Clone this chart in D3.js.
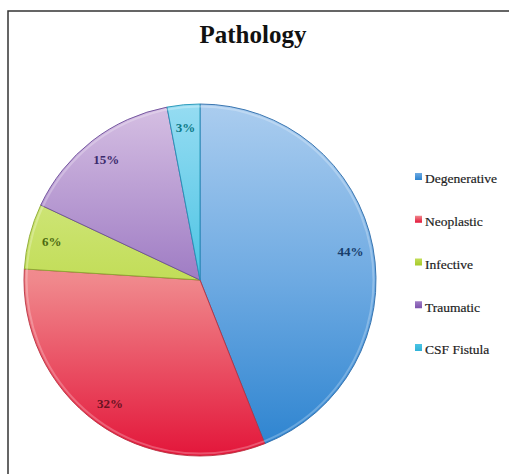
<!DOCTYPE html>
<html lang="en">
<head>
  <meta charset="utf-8">
  <title>Pathology</title>
  <style>
    html,body{margin:0;background:#fff}
    svg{display:block}
    .title{font-family:"Liberation Serif","DejaVu Serif",serif;font-weight:bold;font-size:25px;fill:#111}
    .pct{font-family:"Liberation Serif",serif;font-weight:bold;font-size:13px}
    .legend text{font-family:"Liberation Serif",serif;font-size:13.5px;fill:#222;stroke:#222;stroke-width:0.2}
  </style>
  <script src="https://d3js.org/d3.v7.min.js"></script>
</head>
<body>
<svg width="509" height="474"></svg>
<script>
  // data
  const categories=['Degenerative','Neoplastic','Infective','Traumatic','CSF Fistula'];
  const values=[44,32,6,15,3];

  // styles (light top, saturated bottom, label colour)
  const topColors=['#abcdef','#f9b4b4','#dcee9c','#d6c0e3','#96dcf2'];
  const midColors=['#6eaae2','#f0888c','#c2dd58','#9f7cc4','#4cc4e4'];
  const botColors=['#2a82cf','#e3163a','#a6ca28','#7c52ad','#2fb2d8'];
  const edgeColors=['#2a6aa8','#b8303f','#8aa831','#6b4c98','#1f93b5'];
  const labelColors=['#173d6b','#6a1222','#4d6a12','#3b2a6c','#0d7a88'];

  const svg=d3.select('svg');

  // frame (only top and left visible)
  svg.append('path').attr('d','M8,474 L8,11 L509,11')
     .attr('fill','none').attr('stroke','#333').attr('stroke-width',1.5);

  svg.append('text').attr('class','title')
     .attr('x',253).attr('y',43).attr('text-anchor','middle').text('Pathology');

  const cx=200,cy=280,r=176;
  const defs=svg.append('defs');
  categories.forEach((c,i)=>{
    const g=defs.append('linearGradient').attr('id','g'+i)
      .attr('gradientUnits','userSpaceOnUse')
      .attr('x1',0).attr('y1',-r).attr('x2',0).attr('y2',r);
    g.append('stop').attr('offset',0).attr('stop-color',topColors[i]);
    g.append('stop').attr('offset',0.5).attr('stop-color',midColors[i]);
    g.append('stop').attr('offset',1).attr('stop-color',botColors[i]);
    const lg=defs.append('linearGradient').attr('id','lg'+i)
      .attr('x1',0).attr('y1',0).attr('x2',0).attr('y2',1);
    lg.append('stop').attr('offset',0).attr('stop-color',midColors[i]);
    lg.append('stop').attr('offset',1).attr('stop-color',botColors[i]);
  });

  const pie=d3.pie().sort(null).value(d=>d)(values);
  const arc=d3.arc().innerRadius(0).outerRadius(r);
  const labelArc=d3.arc().innerRadius(r*0.87).outerRadius(r*0.87);

  const pg=svg.append('g').attr('transform',`translate(${cx},${cy})`);
  pg.selectAll('path.slice').data(pie).enter().append('path')
    .attr('class','slice')
    .attr('d',arc)
    .attr('fill',(d,i)=>`url(#g${i})`)
    .attr('stroke',(d,i)=>edgeColors[i])
    .attr('stroke-width',0.9)
    .attr('stroke-linejoin','round');

  // soft bevel highlight along the rim
  pg.append('circle').attr('r',r-2.5).attr('fill','none')
    .attr('stroke','rgba(255,255,255,0.25)').attr('stroke-width',2);

  pg.selectAll('text.pct').data(pie).enter().append('text')
    .attr('class','pct')
    .attr('transform',d=>`translate(${labelArc.centroid(d)})`)
    .attr('text-anchor','middle').attr('dy','0.35em')
    .attr('fill',(d,i)=>labelColors[i])
    .text(d=>d.data+'%');

  // legend
  const y=d3.scalePoint().domain(categories).range([179,350]);
  const leg=svg.append('g').attr('class','legend');
  const item=leg.selectAll('g').data(categories).enter().append('g')
     .attr('transform',d=>`translate(415,${y(d)})`);
  item.append('rect').attr('x',0).attr('y',-6).attr('width',7).attr('height',7)
     .attr('fill',(d,i)=>`url(#lg${i})`);
  item.append('text').attr('x',10).attr('y',0).attr('dy','0.32em').text(d=>d);
</script>
</body>
</html>
